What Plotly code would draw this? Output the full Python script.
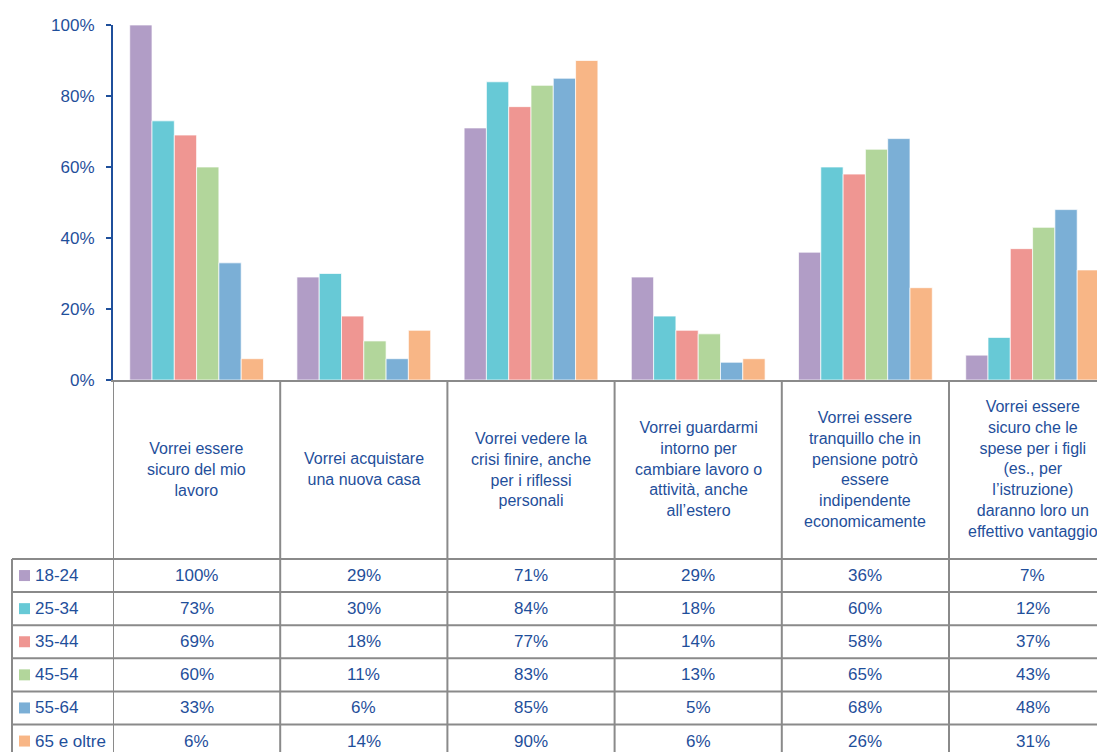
import plotly.graph_objects as go

# ---------------- data ----------------
categories = [
    "Vorrei essere<br>sicuro del mio<br>lavoro",
    "Vorrei acquistare<br>una nuova casa",
    "Vorrei vedere la<br>crisi finire, anche<br>per i riflessi<br>personali",
    "Vorrei guardarmi<br>intorno per<br>cambiare lavoro o<br>attività, anche<br>all’estero",
    "Vorrei essere<br>tranquillo che in<br>pensione potrò<br>essere<br>indipendente<br>economicamente",
    "Vorrei essere<br>sicuro che le<br>spese per i figli<br>(es., per<br>l’istruzione)<br>daranno loro un<br>effettivo vantaggio",
]
series_names = ["18-24", "25-34", "35-44", "45-54", "55-64", "65 e oltre"]
v_18_24 = [100, 29, 71, 29, 36, 7]
v_25_34 = [73, 30, 84, 18, 60, 12]
v_35_44 = [69, 18, 77, 14, 58, 37]
v_45_54 = [60, 11, 83, 13, 65, 43]
v_55_64 = [33, 6, 85, 5, 68, 48]
v_65 = [6, 14, 90, 6, 26, 31]
series_values = [v_18_24, v_25_34, v_35_44, v_45_54, v_55_64, v_65]
colors = ["#b19dc6", "#67c9d6", "#ef9692", "#b2d69b", "#7bafd6", "#f8b686"]
y_ticks = [0, 0.2, 0.4, 0.6, 0.8, 1.0]

# ---------------- layout constants (screen pixels) ----------------
OFF = 8                     # page body margin
W, H = 1105, 752
SCR_L, SCR_T, SCR_BOTTOM = 113, 25, 380
L = SCR_L - OFF
T = SCR_T - OFF
R = 0
B = H - (SCR_BOTTOM - OFF)
PW = W - L - R
PH = SCR_BOTTOM - SCR_T
COL_W = 167.2
X_MAX = PW / COL_W - 0.5
HEADER_BOTTOM = 559
ROW_H = 33.1
TABLE_LEFT = 12

BLUE = "#1f4f9b"
GRID = "#8a8a8a"
FONT = "Liberation Sans, Arial, sans-serif"
FS = 17
FS_HEAD = 16


def px(x):
    return (x - SCR_L) / PW


def py(y):
    return (SCR_BOTTOM - y) / PH


fig = go.Figure()
xs = list(range(len(categories)))
for name, vals, col in zip(series_names, series_values, colors):
    fig.add_trace(go.Bar(
        x=xs, y=[v / 100 for v in vals], name=name,
        marker=dict(color=col, line=dict(color="rgba(255,255,255,0.7)", width=1)),
        showlegend=False,
    ))

shapes = []
annotations = []

# vertical column lines of the table
for i in range(len(categories)):
    shapes.append(dict(type="line", xref="x", yref="paper",
                       x0=i - 0.5, x1=i - 0.5, y0=0, y1=py(H + 20),
                       line=dict(color=GRID, width=2), layer="above"))
# left border of the data rows
shapes.append(dict(type="line", xref="paper", yref="paper",
                   x0=px(TABLE_LEFT), x1=px(TABLE_LEFT),
                   y0=py(HEADER_BOTTOM), y1=py(H + 20),
                   line=dict(color=GRID, width=2)))
# horizontal row lines
for k in range(len(series_names) + 1):
    yk = HEADER_BOTTOM + k * ROW_H
    shapes.append(dict(type="line", xref="paper", yref="paper",
                       x0=px(TABLE_LEFT), x1=1.02, y0=py(yk), y1=py(yk),
                       line=dict(color=GRID, width=2)))

# header texts
for i, cat in enumerate(categories):
    annotations.append(dict(xref="x", yref="paper", x=i,
                            y=py((SCR_BOTTOM + HEADER_BOTTOM) / 2),
                            text=cat, showarrow=False, align="center",
                            xanchor="center", yanchor="middle",
                            font=dict(family=FONT, size=FS_HEAD, color=BLUE)))

# data rows
for k, (name, vals, col) in enumerate(zip(series_names, series_values, colors)):
    yc = HEADER_BOTTOM + (k + 0.5) * ROW_H
    shapes.append(dict(type="rect", xref="paper", yref="paper",
                       x0=px(19), x1=px(30), y0=py(yc - 5.5), y1=py(yc + 5.5),
                       fillcolor=col, line=dict(width=0)))
    annotations.append(dict(xref="paper", yref="paper", x=px(33), y=py(yc),
                            text=name, showarrow=False, xanchor="left",
                            yanchor="middle",
                            font=dict(family=FONT, size=FS, color=BLUE)))
    for i, v in enumerate(vals):
        annotations.append(dict(xref="x", yref="paper", x=i, y=py(yc),
                                text=f"{v}%", showarrow=False,
                                xanchor="center", yanchor="middle",
                                font=dict(family=FONT, size=FS, color=BLUE)))

fig.update_layout(
    width=W, height=H,
    margin=dict(l=L, r=R, t=T, b=B, pad=0),
    paper_bgcolor="white", plot_bgcolor="white",
    barmode="group", bargap=0.2, bargroupgap=0,
    shapes=shapes, annotations=annotations,
    xaxis=dict(range=[-0.5, X_MAX], showticklabels=False, ticks="",
               showgrid=False, zeroline=False, showline=True,
               linecolor=GRID, linewidth=2, fixedrange=True),
    yaxis=dict(range=[0, 1], tickvals=y_ticks, tickformat=".0%",
               ticks="outside", ticklen=5, tickwidth=2, tickcolor=BLUE,
               showline=True, linecolor=BLUE, linewidth=2, showgrid=False,
               zeroline=False, ticklabelstandoff=8,
               tickfont=dict(family=FONT, size=FS, color=BLUE)),
)

fig.write_html("out.html")
